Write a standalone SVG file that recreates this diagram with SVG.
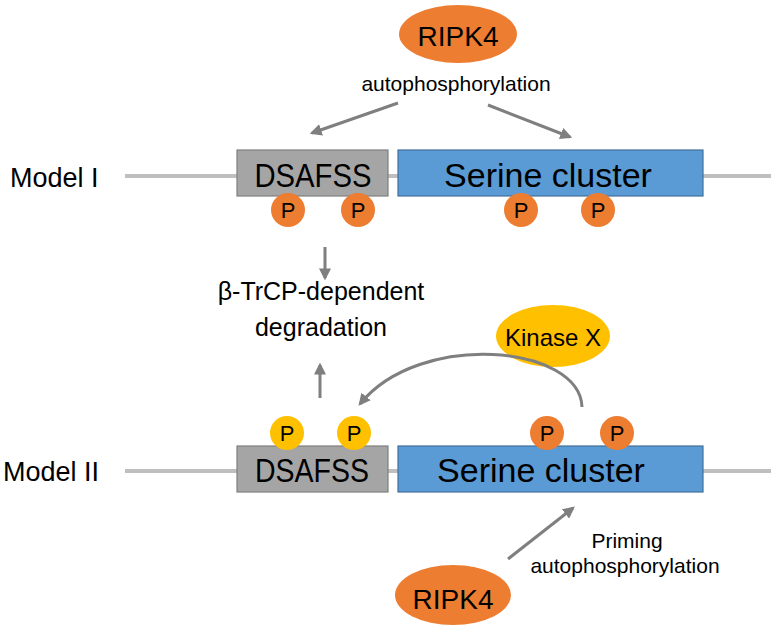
<svg xmlns="http://www.w3.org/2000/svg" width="774" height="628" viewBox="0 0 774 628">
<defs>
<marker id="ah" viewBox="0 0 10 10" refX="8" refY="5" markerWidth="4" markerHeight="4" orient="auto" markerUnits="strokeWidth">
<path d="M0,0 L10,5 L0,10 z" fill="#7f7f7f"/>
</marker>
<style>
text{font-family:"Liberation Sans",Arial,sans-serif;fill:#000}
.bb{stroke:#bfbfbf;stroke-width:4}
.ds{fill:#a5a5a5;stroke:#7f7f7f;stroke-width:1.2}
.sc{fill:#5b9bd5;stroke:#41719c;stroke-width:1.2}
.or{fill:#ed7d31}
.ye{fill:#ffc000}
.box{font-size:34px;text-anchor:middle}
.p{font-size:22px;text-anchor:middle}
.lbl{font-size:21px;text-anchor:middle}
.arr{stroke:#7f7f7f;stroke-width:3;fill:none;marker-end:url(#ah)}
</style>
</defs>
<rect width="774" height="628" fill="#fff"/>

<g id="model1">
<text x="10" y="187" style="font-size:27px">Model I</text>
<line class="bb" x1="125" y1="176" x2="237" y2="176"/>
<line class="bb" x1="388" y1="176" x2="398" y2="176"/>
<line class="bb" x1="703" y1="176" x2="771" y2="176"/>
</g>
<g id="dsafss1">
<rect class="ds" x="237" y="150" width="151" height="46"/>
<text class="box" x="313" y="187" textLength="117" lengthAdjust="spacingAndGlyphs">DSAFSS</text>
</g>
<g id="serine1">
<rect class="sc" x="398" y="150" width="305" height="46"/>
<text class="box" x="548" y="187">Serine cluster</text>
</g>
<g id="p1a"><circle class="or" cx="288" cy="210" r="17"/><text class="p" x="288" y="218">P</text></g>
<g id="p1b"><circle class="or" cx="358" cy="210" r="17"/><text class="p" x="358" y="218">P</text></g>
<g id="p1c"><circle class="or" cx="521" cy="210" r="17"/><text class="p" x="521" y="218">P</text></g>
<g id="p1d"><circle class="or" cx="598" cy="210" r="17"/><text class="p" x="598" y="218">P</text></g>

<g id="ripk4top">
<ellipse class="or" cx="458" cy="34" rx="59" ry="29"/>
<text x="458" y="46" style="font-size:28px;text-anchor:middle">RIPK4</text>
<text class="lbl" x="456" y="91">autophosphorylation</text>
</g>

<g id="degradation">
<text x="321" y="300" style="font-size:25px;text-anchor:middle">β-TrCP-dependent</text>
<text x="321" y="336" style="font-size:25px;text-anchor:middle">degradation</text>
</g>

<g id="kinasex">
<ellipse class="ye" cx="553" cy="336" rx="57" ry="31"/>
<text x="553" y="346" style="font-size:24px;text-anchor:middle">Kinase X</text>
</g>

<g id="model2">
<text x="3" y="481" style="font-size:27px">Model II</text>
<line class="bb" x1="125" y1="471" x2="237" y2="471"/>
<line class="bb" x1="388" y1="471" x2="398" y2="471"/>
<line class="bb" x1="703" y1="471" x2="771" y2="471"/>
</g>
<g id="dsafss2">
<rect class="ds" x="237" y="446" width="151" height="46"/>
<text class="box" x="312" y="482" textLength="114" lengthAdjust="spacingAndGlyphs">DSAFSS</text>
</g>
<g id="serine2">
<rect class="sc" x="398" y="446" width="305" height="46"/>
<text class="box" x="541" y="482">Serine cluster</text>
</g>
<g id="p2a"><circle class="ye" cx="287" cy="433" r="17"/><text class="p" x="287" y="441">P</text></g>
<g id="p2b"><circle class="ye" cx="354" cy="433" r="17"/><text class="p" x="354" y="441">P</text></g>
<g id="p2c"><circle class="or" cx="547" cy="433" r="17"/><text class="p" x="547" y="441">P</text></g>
<g id="p2d"><circle class="or" cx="617" cy="433" r="17"/><text class="p" x="617" y="441">P</text></g>

<g id="ripk4bottom">
<ellipse class="or" cx="453" cy="595" rx="58" ry="30"/>
<text x="453" y="609" style="font-size:28px;text-anchor:middle">RIPK4</text>
<text class="lbl" x="627" y="548">Priming</text>
<text class="lbl" x="625" y="573">autophosphorylation</text>
</g>

<g id="connectors">
<line class="arr" x1="398" y1="103" x2="312" y2="133"/>
<line class="arr" x1="488" y1="105" x2="570" y2="137"/>
<line class="arr" x1="325" y1="247" x2="325" y2="278"/>
<line class="arr" x1="320" y1="398" x2="320" y2="365"/>
<path class="arr" d="M582,407 C580,345 420,330 360,404"/>
<line class="arr" x1="508" y1="559" x2="573" y2="508"/>
</g>
</svg>
